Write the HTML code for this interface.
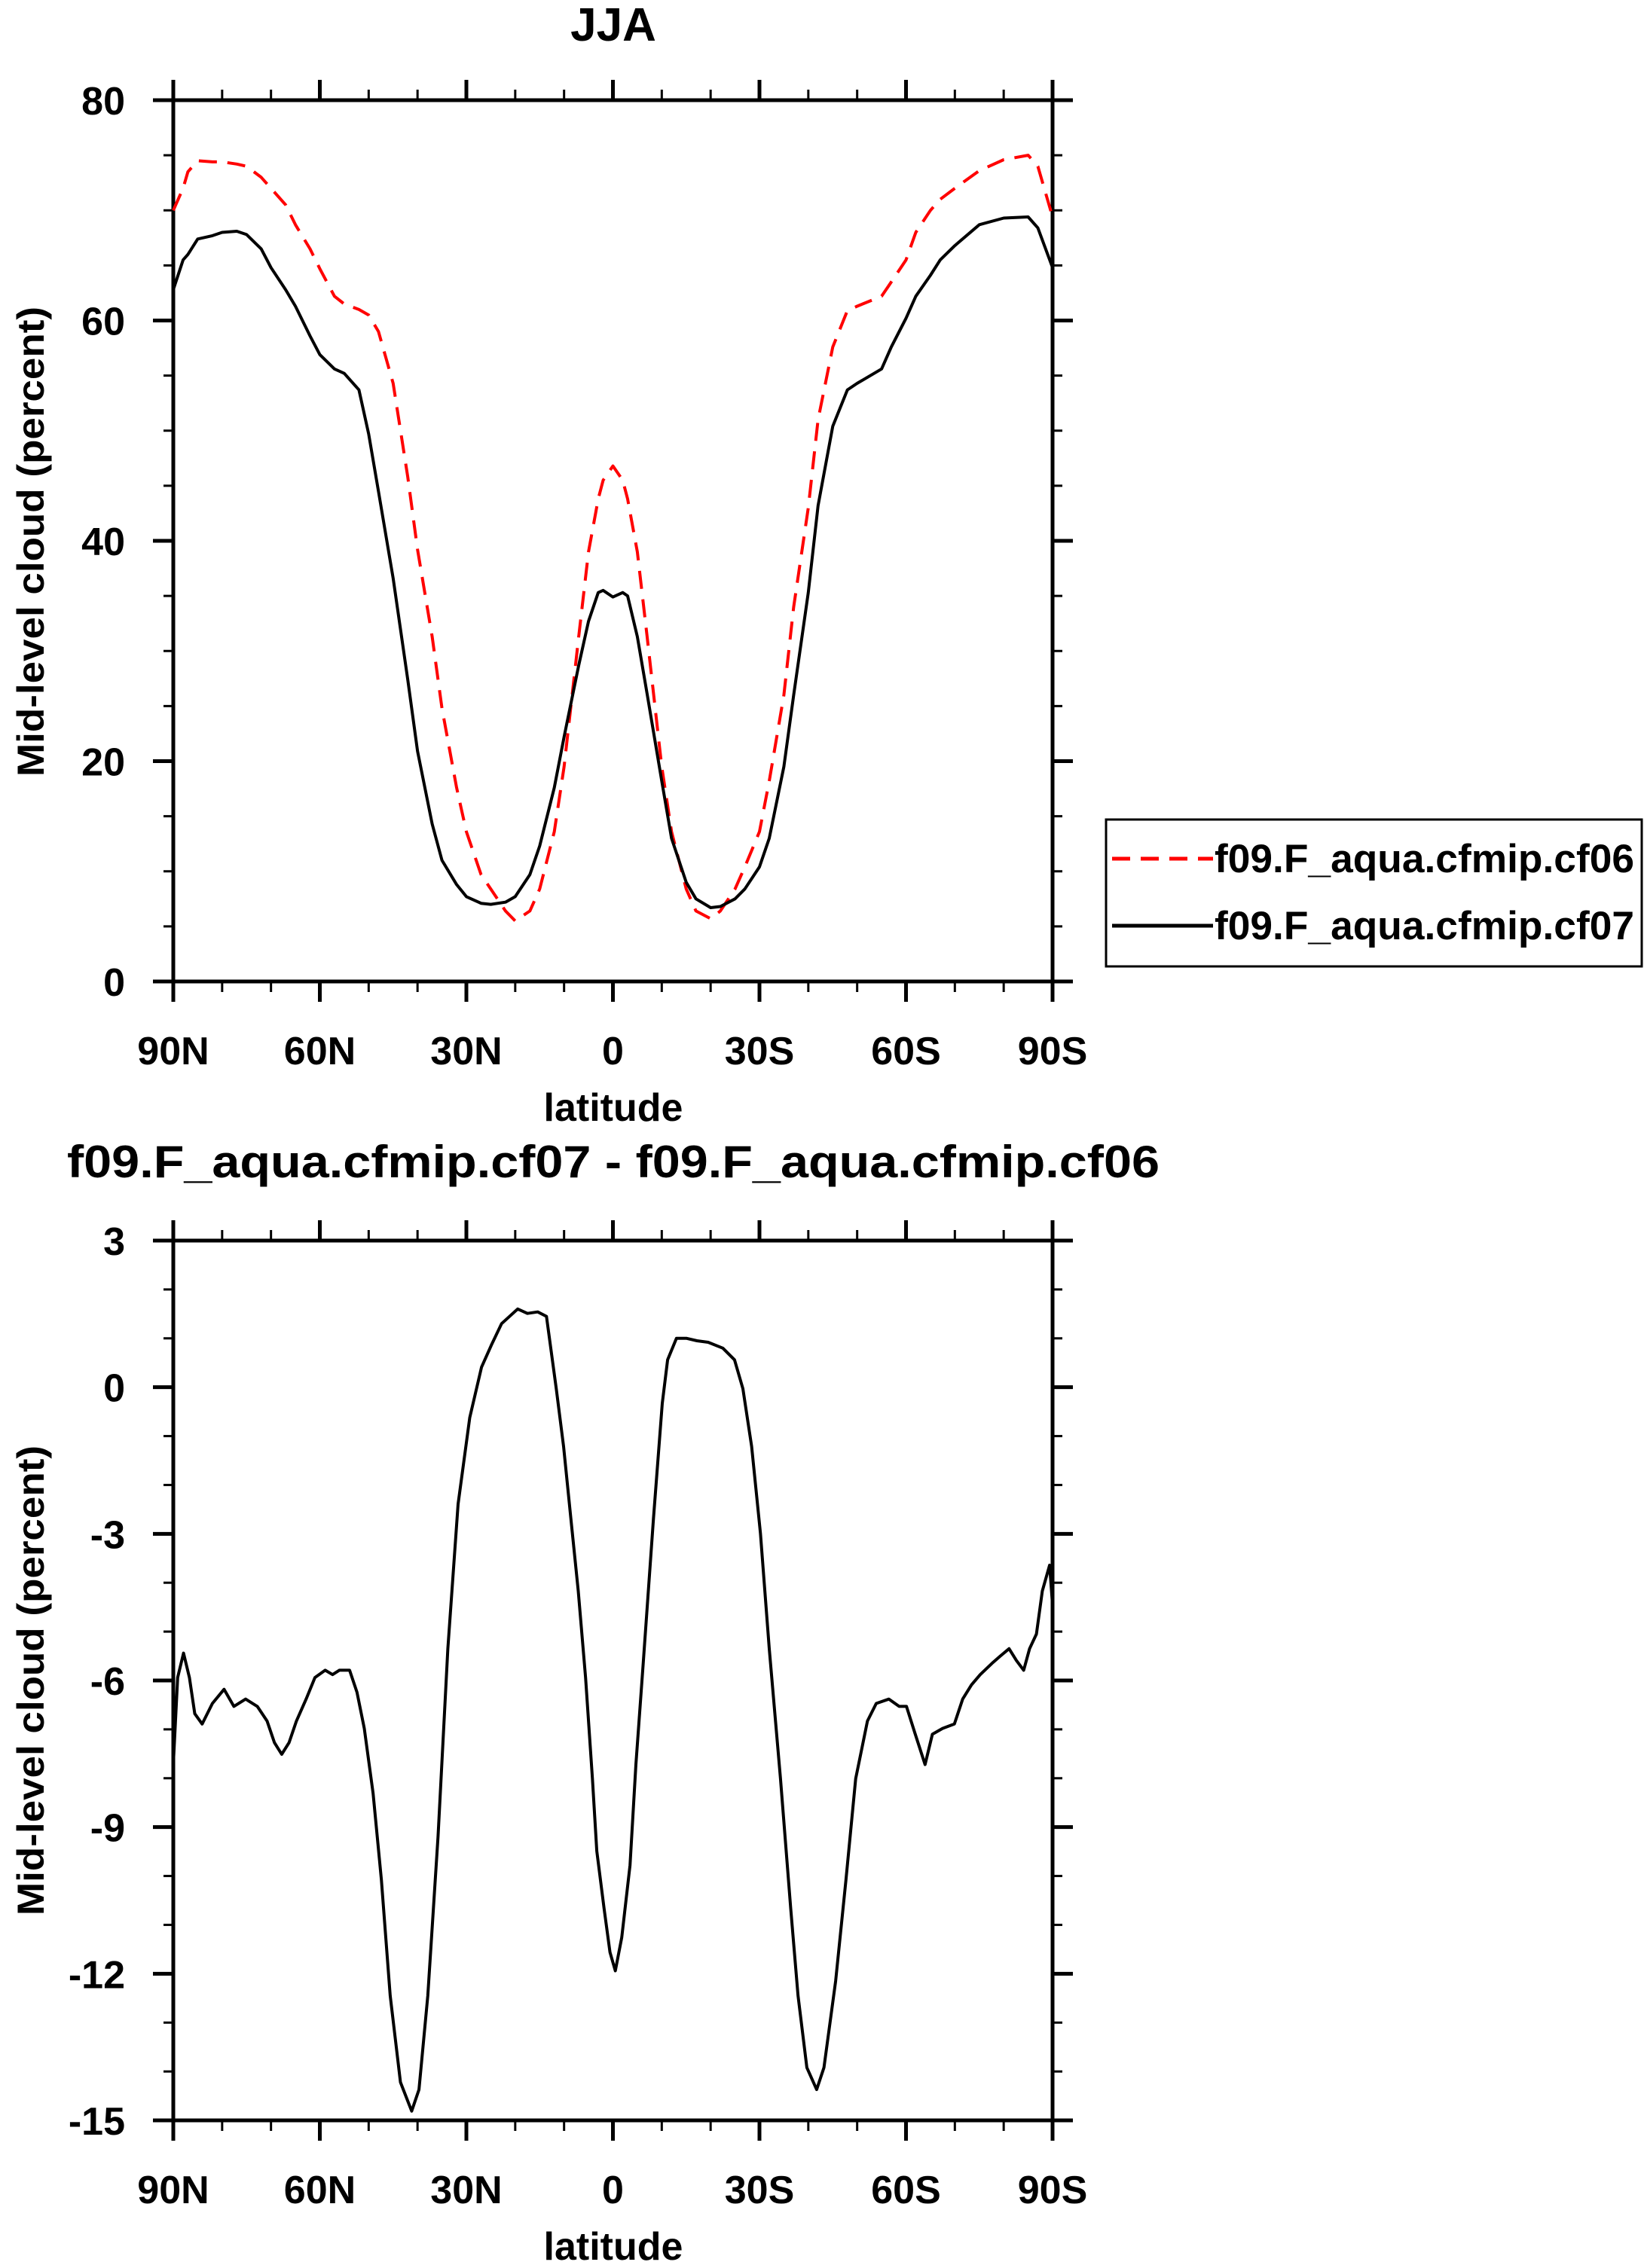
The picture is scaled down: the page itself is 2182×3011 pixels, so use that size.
<!DOCTYPE html>
<html><head><meta charset="utf-8"><style>
html,body{margin:0;padding:0;background:#fff;}
svg{display:block;font-family:"Liberation Sans",Arial,sans-serif;font-weight:bold;}
</style></head><body>
<svg id="chart" width="2182" height="3011" viewBox="0 0 2182 3011" xmlns="http://www.w3.org/2000/svg">
<g id="top"></g>
<g id="bot"></g>
<text x="814" y="54" text-anchor="middle" font-size="62">JJA</text>
<text x="814" y="1563" text-anchor="middle" font-size="60" textLength="1450" lengthAdjust="spacingAndGlyphs">f09.F_aqua.cfmip.cf07 - f09.F_aqua.cfmip.cf06</text>
<text transform="translate(58,719) rotate(-90)" text-anchor="middle" font-size="50" textLength="624" lengthAdjust="spacingAndGlyphs">Mid-level cloud (percent)</text>
<text transform="translate(58,2231) rotate(-90)" text-anchor="middle" font-size="50" textLength="624" lengthAdjust="spacingAndGlyphs">Mid-level cloud (percent)</text>
<text x="814" y="1488" text-anchor="middle" font-size="52">latitude</text>
<text x="814" y="3000" text-anchor="middle" font-size="52">latitude</text>
<g>
<rect x="1468" y="1088" width="711" height="195" fill="none" stroke="#000" stroke-width="3"/>
<line x1="1476" y1="1140" x2="1610" y2="1140" stroke="#f00" stroke-width="5" stroke-dasharray="24,14"/>
<text x="1612" y="1158" font-size="53" textLength="557" lengthAdjust="spacingAndGlyphs">f09.F_aqua.cfmip.cf06</text>
<line x1="1476" y1="1229" x2="1610" y2="1229" stroke="#000" stroke-width="5"/>
<text x="1612" y="1247" font-size="53" textLength="557" lengthAdjust="spacingAndGlyphs">f09.F_aqua.cfmip.cf07</text>
</g>
</svg>
<script>
const xTickLats=[90,60,30,0,-30,-60,-90];
const xTickLabels=["90N","60N","30N","0","30S","60S","90S"];
const topYTicks=[0,20,40,60,80];
const botYTicks=[-15,-12,-9,-6,-3,0,3];
const latTop=[90,88,87,85,82,80,77,75,72,70,67,65,62,60,57,55,52,50,48,45,42,40,37,35,32,30,27,25,22,20,17,15,12,10,7,5,3,2,0,-2,-3,-5,-7,-10,-12,-15,-17,-20,-22,-25,-27,-30,-32,-35,-37,-40,-42,-45,-48,-50,-55,-57,-60,-62,-65,-67,-70,-75,-80,-85,-87,-90];
const cf06=[70,72,73.5,74.5,74.4,74.4,74.2,74,73,72,70.5,68.7,66.5,64.7,62.2,61.5,61,60.5,59,54.3,45.8,39.2,31.3,24.8,17.6,13.6,9.7,8.4,6.4,5.5,6.4,8.4,13.6,19.5,31.3,39,43.8,45.5,46.8,45.5,43.8,39,31.3,19.5,13.6,8.4,6.4,5.7,6.4,8.4,10.4,13.6,18.2,26,34,43,51,57.6,60.9,61.3,62.2,63.5,65.5,68,70,71,72,73.6,74.6,75,74,69.4];
const cf07=[62.8,65.5,66,67.4,67.7,68,68.1,67.8,66.5,64.8,62.8,61.3,58.6,56.9,55.6,55.2,53.7,49.7,44.5,36.6,27.4,20.9,14.3,11,8.8,7.7,7.1,7,7.2,7.7,9.7,12.3,17.6,22.2,28.7,32.7,35.3,35.5,34.9,35.3,35,31.3,26.1,18.2,13,9,7.5,6.7,6.8,7.5,8.4,10.4,13,19.5,26,35.3,43.2,50.4,53.7,54.3,55.6,57.6,60.2,62.2,64.1,65.5,66.8,68.7,69.3,69.4,68.4,64.8];
const latDiff=[90,89.1,87.9,86.7,85.6,84.1,82,79.6,77.6,75.2,72.8,70.8,69.3,67.8,66.3,64.8,62.8,61,58.9,57.4,56,53.9,52.4,50.9,49.1,47.4,45.6,43.5,41.2,39.7,37.9,35.8,33.8,31.7,29.3,26.9,24.9,22.8,19.5,17.5,15.4,13.6,11.6,10.1,8.6,7.1,5.6,4.2,3.3,1.8,0.6,-0.5,-1.8,-3.5,-4.7,-6.2,-8.3,-10.1,-11.2,-13,-15.1,-17.2,-19.5,-22.5,-24.9,-26.6,-28.4,-30.2,-32,-34.3,-36.4,-37.9,-39.7,-41.7,-43.2,-45.6,-47.7,-49.7,-52.1,-53.9,-56.5,-58.6,-60.1,-61.9,-63.9,-65.4,-67.5,-69.9,-71.6,-73.4,-75.2,-77.6,-79.3,-81.1,-82.6,-84.1,-85.3,-86.7,-87.9,-89.4,-90];
const diff=[-7.72,-5.94,-5.44,-5.94,-6.68,-6.89,-6.47,-6.18,-6.53,-6.38,-6.53,-6.83,-7.27,-7.51,-7.27,-6.83,-6.38,-5.94,-5.79,-5.88,-5.79,-5.79,-6.24,-6.98,-8.31,-10.08,-12.45,-14.22,-14.81,-14.37,-12.45,-9.19,-5.35,-2.39,-0.62,0.41,0.86,1.3,1.6,1.51,1.54,1.45,-0.03,-1.21,-2.69,-4.17,-5.94,-8.01,-9.49,-10.67,-11.56,-11.94,-11.26,-9.78,-7.72,-5.65,-2.69,-0.33,0.56,1.0,1.0,0.95,0.92,0.8,0.56,-0.03,-1.21,-2.99,-5.35,-8.01,-10.67,-12.45,-13.92,-14.37,-13.92,-12.15,-10.08,-8.01,-6.83,-6.47,-6.38,-6.53,-6.53,-7.1,-7.72,-7.1,-6.98,-6.89,-6.38,-6.09,-5.88,-5.65,-5.5,-5.35,-5.59,-5.79,-5.35,-5.05,-4.17,-3.64,-4.46];
const NS="http://www.w3.org/2000/svg";
const L=230,R=1397;
function xs(lat){return L+(90-lat)/180*(R-L);}
function mk(tag,attrs,parent){const e=document.createElementNS(NS,tag);for(const k in attrs)e.setAttribute(k,attrs[k]);parent.appendChild(e);return e;}
function panel(g,top,bot,ymin,ymax,yTicks,yMinorStep,name){
  const ys=v=>bot-(v-ymin)/(ymax-ymin)*(bot-top);
  // minor y ticks
  for(let v=ymin;v<=ymax+1e-9;v+=yMinorStep){
    const y=ys(v);
    const t1=mk('line',{x1:L-13,y1:y,x2:L,y2:y,stroke:'#000','stroke-width':3},g);
    
    
    const t2=mk('line',{x1:R,y1:y,x2:R+13,y2:y,stroke:'#000','stroke-width':3},g);
    
    
  }
  yTicks.forEach(v=>{
    const y=ys(v);
    const a=mk('line',{x1:L-27,y1:y,x2:L,y2:y,stroke:'#000','stroke-width':5},g);
    
    
    const b=mk('line',{x1:R,y1:y,x2:R+27,y2:y,stroke:'#000','stroke-width':5},g);
    
    
    const t=mk('text',{x:166,y:y+19,'text-anchor':'end','font-size':52},g);
    t.textContent=String(v);
    
    
  });
  for(let lat=90;lat>=-90;lat-=10){
    const x=xs(lat);const major=(lat%30===0);
    const len=major?27:14;const w=major?5:3;
    const a=mk('line',{x1:x,y1:bot,x2:x,y2:bot+len,stroke:'#000','stroke-width':w},g);
    
    
    const b=mk('line',{x1:x,y1:top-len,x2:x,y2:top,stroke:'#000','stroke-width':w},g);
    
    
  }
  xTickLats.forEach((lat,i)=>{
    const t=mk('text',{x:xs(lat),y:bot+110,'text-anchor':'middle','font-size':52},g);
    t.textContent=xTickLabels[i];
    
    
  });
  const f=mk('rect',{x:L,y:top,width:R-L,height:bot-top,fill:'none',stroke:'#000','stroke-width':5},g);
  
  
  return ys;
}
function line(g,lats,vals,ys,attrs,nm){
  const d=lats.map((la,i)=>(i?'L':'M')+xs(la).toFixed(1)+','+ys(vals[i]).toFixed(1)).join('');
  const p=mk('path',Object.assign({d:d,fill:'none','stroke-width':4,'stroke-linejoin':'round'},attrs),g);
  
  
}
const gt=document.getElementById('top');
const yt=panel(gt,133,1303,0,80,topYTicks,5,'top');
line(gt,latTop,cf06,yt,{stroke:'#f00','stroke-dasharray':'24,14'},'series-cf06');
line(gt,latTop,cf07,yt,{stroke:'#000'},'series-cf07');
const gb=document.getElementById('bot');
const yb=panel(gb,1647,2815,-15,3,botYTicks,1,'bottom');
line(gb,latDiff,diff,yb,{stroke:'#000'},'series-difference');
</script>
</body></html>
